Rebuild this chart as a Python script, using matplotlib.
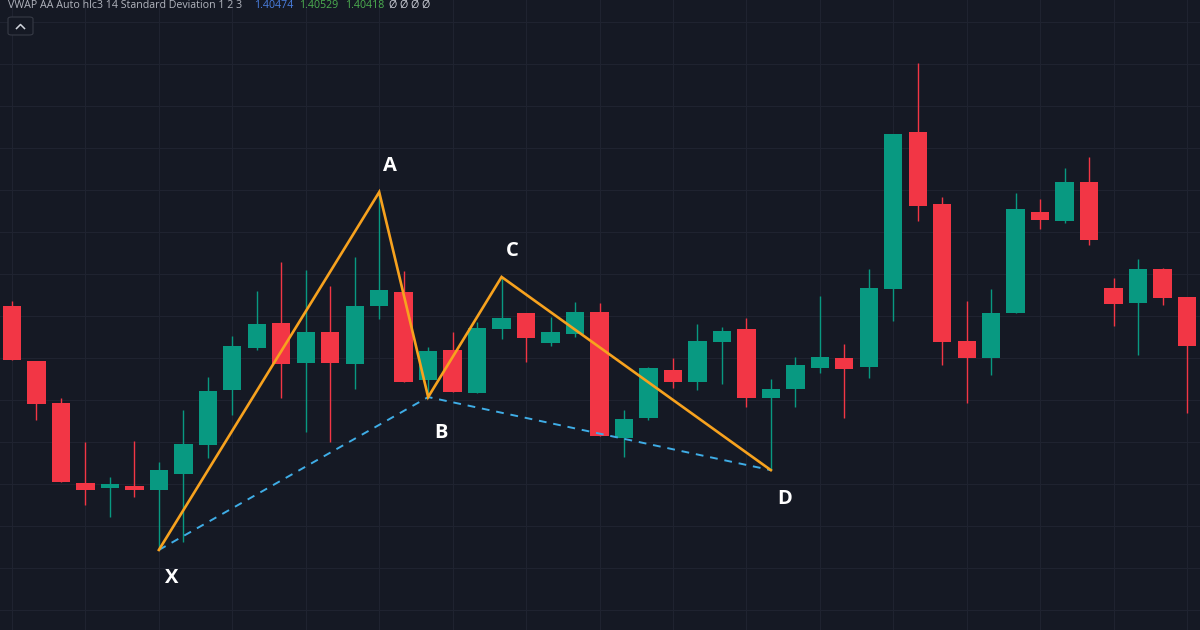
import matplotlib
matplotlib.use("Agg")
import matplotlib.pyplot as plt
from matplotlib.patches import FancyBboxPatch
from matplotlib.lines import Line2D
import numpy as np

# ---- data (price units) ----
opens  = [122.4, 109.3, 99.3, 80.2, 79.0, 79.5, 78.6, 82.4, 89.3, 102.4,
          112.4, 118.3, 108.8, 116.2, 108.6, 122.4, 125.7, 104.8, 111.9, 101.7,
          116.9, 120.7, 113.6, 115.7, 121.0, 91.0, 95.7, 107.1, 104.3, 113.8,
          116.9, 100.5, 102.6, 107.6, 110.0, 107.9, 126.4, 163.8, 146.7, 114.0,
          110.0, 120.7, 144.8, 142.6, 151.9, 126.7, 123.1, 131.2, 124.5]
highs  = [123.6, 109.3, 100.5, 90.0, 81.7, 90.2, 85.2, 97.6, 105.5, 115.2,
          126.0, 132.9, 131.0, 127.1, 134.0, 149.5, 130.7, 112.6, 116.2, 118.6,
          129.3, 120.7, 119.8, 123.3, 123.1, 97.6, 107.9, 110.0, 118.1, 117.4,
          119.5, 105.0, 110.2, 124.8, 113.3, 131.2, 163.3, 180.2, 148.3, 123.6,
          126.4, 149.3, 147.9, 155.2, 157.9, 129.0, 133.6, 131.4, 124.5]
lows   = [109.5, 95.2, 80.5, 75.0, 72.1, 76.9, 64.3, 66.2, 86.2, 96.4,
          111.9, 100.5, 92.4, 90.0, 102.6, 119.3, 104.3, 100.7, 101.9, 101.7,
          114.5, 109.0, 112.9, 115.0, 91.4, 86.4, 95.2, 102.9, 102.4, 103.8,
          98.3, 83.3, 98.3, 106.4, 95.7, 105.2, 118.8, 142.6, 108.3, 99.3,
          106.0, 120.7, 140.7, 142.1, 136.9, 117.6, 110.7, 122.6, 96.9]
closes = [109.5, 99.0, 80.5, 78.6, 80.0, 78.6, 83.3, 89.5, 102.1, 112.9,
          118.1, 108.6, 116.2, 108.8, 122.4, 126.2, 104.3, 111.7, 101.9, 117.1,
          119.5, 114.8, 116.2, 121.0, 91.4, 95.5, 107.6, 104.3, 114.0, 116.4,
          100.5, 102.6, 108.3, 110.2, 107.4, 126.7, 163.3, 146.2, 113.8, 110.0,
          120.7, 145.5, 142.9, 151.9, 138.1, 122.9, 131.2, 124.3, 112.9]

pattern_labels = ["X", "A", "B", "C", "D"]
pattern_index  = [6, 15, 17, 20, 31]
pattern_price  = [64.3, 149.5, 100.7, 129.3, 83.3]

legend_title = "VWAP AA Auto hlc3 14 Standard Deviation 1 2 3"
legend_values = ["1.40474", "1.40529", "1.40418"]
legend_tail = "Ø Ø Ø Ø"

# ---- style ----
BG = "#151924"
GRID = "#1f2330"
UP = "#089981"
DOWN = "#F23645"
ORANGE = "#F7A21E"
BLUE = "#3FADE6"

W, H = 1200, 630
fig = plt.figure(figsize=(W / 100, H / 100), dpi=100, facecolor=BG)
ax = fig.add_axes([0, 0, 1, 1])
ax.set_facecolor(BG)

n = len(opens)
idx = np.arange(n)
ax.set_xlim(-0.49, 48.53)
ax.set_ylim(45.24, 195.24)

# grid
for gx in range(0, n, 3):
    ax.axvline(gx, color=GRID, lw=0.8, zorder=0)
for gy in np.arange(50, 200, 10):
    ax.axhline(gy, color=GRID, lw=0.8, zorder=0)

o = np.array(opens); c = np.array(closes); h = np.array(highs); l = np.array(lows)
colors = [UP if cc >= oo else DOWN for oo, cc in zip(o, c)]
ax.vlines(idx, l, h, colors=colors, lw=1.0, zorder=2)
bottoms = np.minimum(o, c)
heights = np.maximum(np.abs(c - o), 0.3)
ax.bar(idx, heights, bottom=bottoms, width=0.75, color=colors, zorder=3,
       linewidth=0)

# harmonic pattern
px = list(pattern_index)
py = list(pattern_price)
ax.plot(px, py, color=ORANGE, lw=1.9, zorder=5, solid_joinstyle="miter")
dash_x = [px[0], px[2], px[4]]
dash_y = [py[0], py[2], py[4]]
ax.plot(dash_x, dash_y, color=BLUE, lw=1.4, dashes=(4, 3.5), zorder=4)

offsets = {"X": (9, -20), "A": (8, 19), "B": (9, -26), "C": (8, 19), "D": (10, -21)}
for lab, x, y in zip(pattern_labels, px, py):
    dx, dy = offsets[lab]
    ax.annotate(lab, (x, y), xytext=(dx, dy), textcoords="offset points",
                ha="center", va="center", color="white", fontsize=14.5,
                fontweight="bold", family="Open Sans", zorder=6)

ax.axis("off")

# legend text at top-left
ty = 1 - 5.5 / H
FS = 7.7
fig.text(8 / W, ty, legend_title, color="#B2B5BE", fontsize=FS, va="center",
         ha="left", family="Open Sans")
val_x = [254, 299, 345]
val_c = ["#4A7FE0", "#4CAF50", "#4CAF50"]
for t, xx, cc in zip(legend_values, val_x, val_c):
    fig.text(xx / W, ty, t, color=cc, fontsize=FS, va="center", ha="left",
             family="Open Sans")
fig.text(389 / W, ty, legend_tail, color="#D1D4DC", fontsize=FS, va="center",
         ha="left", family="Open Sans")

# collapse button
btn = FancyBboxPatch((8 / W, 1 - 35 / H), 25 / W, 18 / H,
                     boxstyle="round,pad=0,rounding_size=0.003",
                     transform=fig.transFigure, facecolor=BG,
                     edgecolor="#363A45", lw=0.8)
fig.patches.append(btn)
fig.add_artist(Line2D([16.5 / W, 20.5 / W, 24.5 / W],
                      [1 - 28.5 / H, 1 - 24.5 / H, 1 - 28.5 / H],
                      transform=fig.transFigure, color="#D1D4DC", lw=1.1))

fig.savefig("out.png", dpi=100, facecolor=BG)
